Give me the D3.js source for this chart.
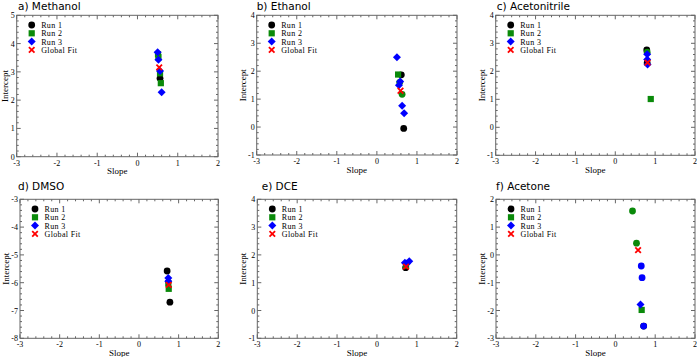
<!DOCTYPE html>
<html lang="en">
<head>
  <meta charset="UTF-8">
  <title>slope vs intercept</title>
  <script src="https://cdn.jsdelivr.net/npm/d3@7"></script>
  <style>
    body { margin: 0; background: #fff; }
    .tick-label { font-family: "Liberation Serif", "Times New Roman", serif; font-size: 8px; fill: #000; }
    .axis-title { font-family: "Liberation Serif", "Times New Roman", serif; font-size: 9px; fill: #000; }
    .legend text { font-family: "Liberation Serif", "Times New Roman", serif; font-size: 8px; letter-spacing: 0.35px; fill: #000; }
    .panel-title { font-family: "DejaVu Sans", sans-serif; font-size: 10.5px; fill: #000; }
  </style>
</head>
<body>
<script>
let width = 697;
let height = 357;

// data
let titles = ['a) Methanol', 'b) Ethanol', 'c) Acetonitrile', 'd) DMSO', 'e) DCE', 'f) Acetone'];
let seriesNames = ['Run 1', 'Run 2', 'Run 3', 'Global Fit'];
let xTicks = [-3, -2, -1, 0, 1, 2];
let yRanges = [[0, 5], [-1, 4], [-1, 4], [-8, -3], [-1, 4], [-3, 2]];

let methanolRun1 = [[0.56, 2.77]];
let methanolRun2 = [[0.51, 3.62], [0.52, 3.52], [0.56, 2.95], [0.58, 2.6]];
let methanolRun3 = [[0.50, 3.69], [0.52, 3.43], [0.56, 3.03], [0.60, 2.28]];
let methanolFit = [[0.54, 3.16]];

let ethanolRun1 = [[0.61, 1.87], [0.67, -0.05]];
let ethanolRun2 = [[0.53, 1.88], [0.57, 1.6, 'circle'], [0.63, 1.17, 'circle']];
let ethanolRun3 = [[0.50, 2.50], [0.58, 1.63], [0.55, 1.5], [0.63, 0.76], [0.68, 0.49]];
let ethanolFit = [[0.59, 1.3]];

let acetonitrileRun1 = [[0.79, 2.76], [0.80, 2.3]];
let acetonitrileRun2 = [[0.80, 2.68, 'circle'], [0.89, 1.01]];
let acetonitrileRun3 = [[0.80, 2.61], [0.80, 2.42], [0.81, 2.24]];
let acetonitrileFit = [[0.81, 2.31]];

let dmsoRun1 = [[0.71, -5.58], [0.78, -6.70]];
let dmsoRun2 = [[0.74, -6.02], [0.75, -6.22]];
let dmsoRun3 = [[0.74, -5.83], [0.74, -5.95]];
let dmsoFit = [[0.75, -6.08]];

let dceRun1 = [[0.72, 1.54]];
let dceRun2 = [[0.73, 1.61]];
let dceRun3 = [[0.70, 1.72], [0.75, 1.69], [0.81, 1.77]];
let dceFit = [[0.73, 1.58]];

let acetoneRun1 = [[0.71, -2.56]];
let acetoneRun2 = [[0.43, 1.58, 'circle'], [0.53, 0.42, 'circle'], [0.66, -1.98]];
let acetoneRun3 = [[0.65, -0.40, 'circle'], [0.67, -0.82, 'circle'], [0.63, -1.78], [0.71, -2.56, 'circle']];
let acetoneFit = [[0.57, 0.17]];

let panelData = [
  [methanolRun1, methanolRun2, methanolRun3, methanolFit],
  [ethanolRun1, ethanolRun2, ethanolRun3, ethanolFit],
  [acetonitrileRun1, acetonitrileRun2, acetonitrileRun3, acetonitrileFit],
  [dmsoRun1, dmsoRun2, dmsoRun3, dmsoFit],
  [dceRun1, dceRun2, dceRun3, dceFit],
  [acetoneRun1, acetoneRun2, acetoneRun3, acetoneFit]
];

// layout of the six plot boxes [left, top, right, bottom]
let boxes = [
  [16.7, 15.3, 218, 156.7],
  [256.7, 15.3, 457, 155],
  [495.7, 15.3, 695, 155.3],
  [20, 199.3, 218.3, 338.3],
  [257.3, 199.3, 456.7, 338.3],
  [496, 199.3, 695, 338.3]
];
let titlePos = [[18, 10], [256.7, 10], [496.7, 10], [18, 190], [261.7, 190], [496, 190]];

let colors = ['#000000', '#0a8a0a', '#0000ff', '#ff0000'];
let shapes = ['circle', 'square', 'diamond', 'cross'];

let svg = d3.select('body')
  .append('svg')
  .attr('width', width)
  .attr('height', height);

function marker(g, shape, color) {
  if (shape === 'circle') {
    g.append('circle').attr('r', 3.4).attr('fill', color);
  } else if (shape === 'square') {
    g.append('rect').attr('x', -3.1).attr('y', -3.1)
      .attr('width', 6.2).attr('height', 6.2).attr('fill', color);
  } else if (shape === 'diamond') {
    g.append('path').attr('d', 'M0,-4L4,0L0,4L-4,0Z').attr('fill', color);
  } else {
    g.append('path').attr('d', 'M-2.8,-2.8L2.8,2.8M-2.8,2.8L2.8,-2.8')
      .attr('stroke', color).attr('stroke-width', 1.8).attr('fill', 'none');
  }
}

function renderPanel(i) {
  let [left, top, right, bottom] = boxes[i];
  let x = d3.scaleLinear().domain([-3, 2]).range([left, right]);
  let y = d3.scaleLinear().domain(yRanges[i]).range([bottom, top]);
  let yTicks = d3.range(yRanges[i][0], yRanges[i][1] + 1);

  let g = svg.append('g').attr('class', 'panel');

  g.append('rect')
    .attr('x', left).attr('y', top)
    .attr('width', right - left).attr('height', bottom - top)
    .attr('fill', 'none').attr('stroke', '#666').attr('stroke-width', 1);

  // major + minor ticks, inward, on all four sides
  let xMinor = d3.range(-3, 2.001, 0.2);
  let yMinor = d3.range(yRanges[i][0], yRanges[i][1] + 0.001, 0.2);
  let tickG = g.append('g').attr('stroke', '#666').attr('stroke-width', 1);
  xMinor.forEach(v => {
    let len = Math.abs(v - Math.round(v)) < 1e-6 ? 4 : 2;
    tickG.append('line').attr('x1', x(v)).attr('x2', x(v)).attr('y1', bottom).attr('y2', bottom - len);
    tickG.append('line').attr('x1', x(v)).attr('x2', x(v)).attr('y1', top).attr('y2', top + len);
  });
  yMinor.forEach(v => {
    let len = Math.abs(v - Math.round(v)) < 1e-6 ? 4 : 2;
    tickG.append('line').attr('y1', y(v)).attr('y2', y(v)).attr('x1', left).attr('x2', left + len);
    tickG.append('line').attr('y1', y(v)).attr('y2', y(v)).attr('x1', right).attr('x2', right - len);
  });

  g.selectAll('text.xl').data(xTicks).enter().append('text')
    .attr('class', 'tick-label')
    .attr('x', d => x(d))
    .attr('y', bottom + 9)
    .attr('text-anchor', 'middle')
    .text(d => d);

  g.selectAll('text.yl').data(yTicks).enter().append('text')
    .attr('class', 'tick-label')
    .attr('x', left - 2)
    .attr('y', d => y(d) + 3)
    .attr('text-anchor', 'end')
    .text(d => d);

  g.append('text').attr('class', 'axis-title')
    .attr('x', (left + right) / 2).attr('y', bottom + 17.5)
    .attr('text-anchor', 'middle').text('Slope');

  g.append('text').attr('class', 'axis-title')
    .attr('transform', 'translate(' + Math.max(left - 11, 8) + ',' + ((top + bottom) / 2) + ') rotate(-90)')
    .attr('text-anchor', 'middle').text('Intercept');

  g.append('text').attr('class', 'panel-title')
    .attr('x', titlePos[i][0]).attr('y', titlePos[i][1])
    .text(titles[i]);

  // points
  panelData[i].forEach((series, s) => {
    series.forEach(p => {
      let m = g.append('g').attr('transform', 'translate(' + x(p[0]) + ',' + y(p[1]) + ')');
      marker(m, p[2] || shapes[s], colors[s]);
    });
  });

  // legend
  let legend = g.append('g').attr('class', 'legend');
  seriesNames.forEach((name, s) => {
    let ly = top + 9.7 + s * 8.3;
    let m = legend.append('g').attr('transform', 'translate(' + (left + 15) + ',' + ly + ')');
    marker(m, shapes[s], colors[s]);
    legend.append('text').attr('x', left + 24.5).attr('y', ly + 3).text(name);
  });
}

d3.range(6).forEach(renderPanel);
</script>
</body>
</html>
